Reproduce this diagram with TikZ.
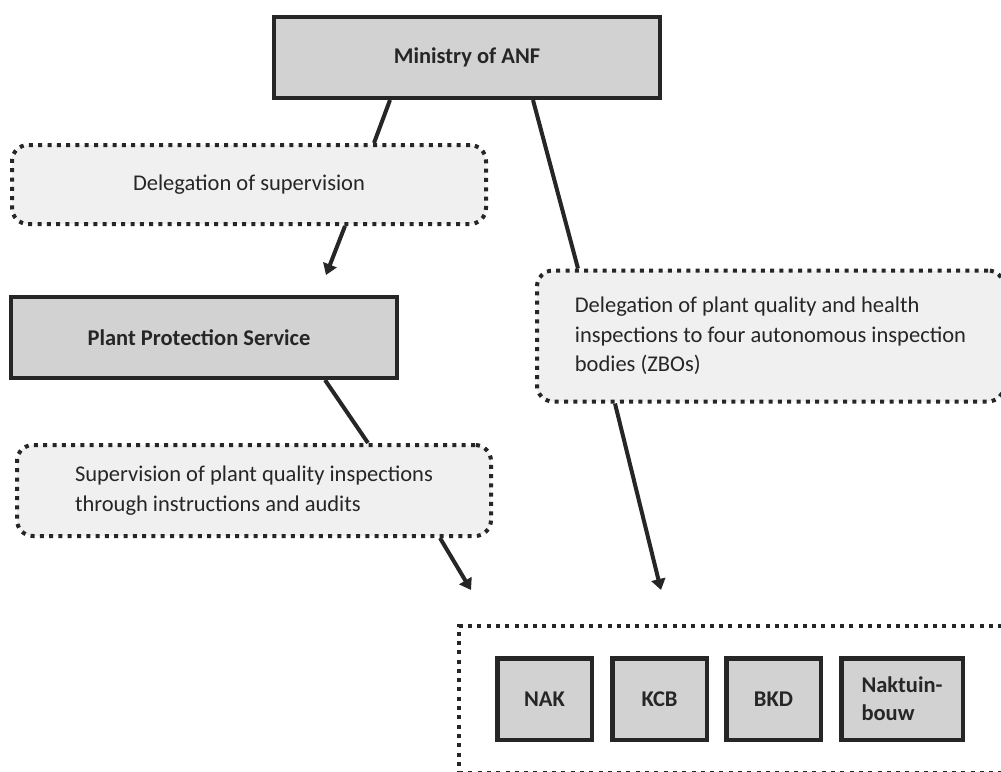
\documentclass[tikz,border=0pt]{standalone}
\usepackage{fontspec}
\setmainfont{Carlito}
\usetikzlibrary{arrows.meta}
\definecolor{edge}{HTML}{262626}
\definecolor{boxgray}{HTML}{D2D2D2}
\definecolor{notegray}{HTML}{F0F0F0}
\tikzset{
  solidbox/.style={draw=edge, line width=4pt, fill=boxgray, inner sep=0pt,
    font=\bfseries\fontsize{22.5}{29.5}\selectfont, text=edge},
  smallbox/.style={solidbox, line width=4.5pt, minimum width=94.5pt, minimum height=81.5pt,
    font=\bfseries\fontsize{22.5}{28}\selectfont, align=left},
  notebox/.style={draw=edge, line width=4pt, dash pattern=on 4pt off 5.3pt,
    rounded corners=16pt, fill=notegray, inner sep=0pt, text=edge,
    font=\fontsize{22.5}{29.5}\selectfont, align=left},
  groupbox/.style={draw=edge, line width=4pt, dash pattern=on 4pt off 5.3pt, inner sep=0pt},
  link/.style={draw=edge, line width=4pt},
  arrowlink/.style={link, -{Triangle[length=11pt,width=14pt]}},
}
\begin{document}
\begin{tikzpicture}[x=1pt,y=-1pt]
\path[use as bounding box, fill=white] (0,0) rectangle (1001,771);
\clip (0,0) rectangle (1001,771);

% main bodies
\node[solidbox, minimum width=386pt, minimum height=81pt] (min) at (467,57.5) {Ministry of ANF};
\node[notebox, minimum width=474pt, minimum height=79pt] (deleg) at (249,184.5) {Delegation of supervision};
\node[solidbox, minimum width=386pt, minimum height=81pt] (pps) at (204,337.5) {\hspace*{-10pt}Plant Protection Service};
\node[notebox, minimum width=474pt, minimum height=91pt] (sup) at (254,490.5)
  {Supervision of plant quality inspections\\through instructions and audits};
\node[notebox, minimum width=467pt, minimum height=131pt] (zbo) at (770.5,336)
  {Delegation of plant quality and health\\inspections to four autonomous inspection\\bodies (ZBOs)};

% group of inspection bodies
\node[groupbox, minimum width=561pt, minimum height=146.5pt] (group) at (739.5,699.25) {};
\node[smallbox] (nak) at (544.5,699) {NAK};
\node[smallbox] (kcb) at (659.5,699) {KCB};
\node[smallbox] (bkd) at (773.5,699) {BKD};
\node[smallbox, minimum width=121.5pt] (nakt) at (902,699) {Naktuin-\\bouw};

% free arrow ends
\coordinate (t1) at (326,275);
\coordinate (t2) at (471,590);
\coordinate (t3) at (661,590);

% connectors
\draw[link] ([xshift=-77pt]min.south) -- ([xshift=125pt]deleg.north);
\draw[arrowlink] ([xshift=96pt]deleg.south) -- (t1);
\draw[link] ([xshift=121pt]pps.south) -- ([xshift=114pt]sup.north);
\draw[arrowlink] ([xshift=186pt]sup.south) -- (t2);
\draw[link] ([xshift=66pt]min.south) -- ([xshift=-192.5pt]zbo.north);
\draw[arrowlink] ([xshift=-155.5pt]zbo.south) -- (t3);
\end{tikzpicture}
\end{document}
